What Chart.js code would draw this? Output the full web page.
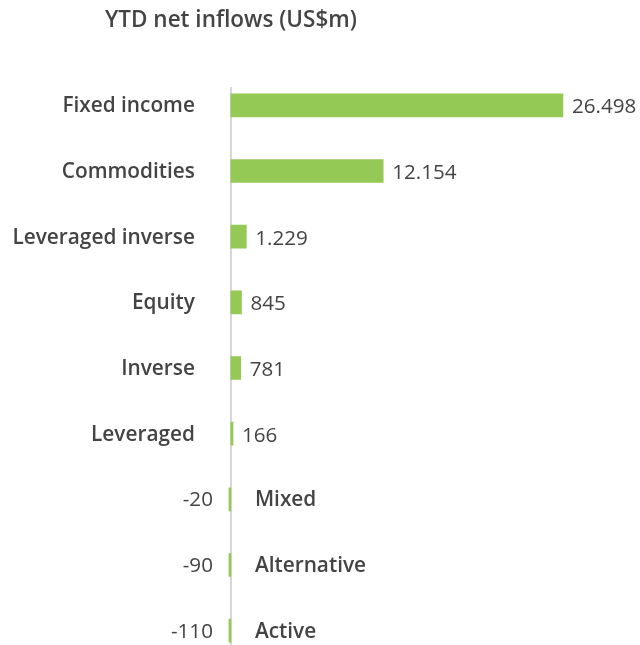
<!DOCTYPE html>
<html>
<head>
<meta charset="utf-8">
<script src="https://cdn.jsdelivr.net/npm/chart.js@4"></script>
<style>
  html, body { margin: 0; padding: 0; background: #fff; overflow: hidden; }
  #wrap { width: 640px; height: 680px; }
</style>
</head>
<body>
<div id="wrap"><canvas id="flowChart"></canvas></div>
<script>
const categories = ['Fixed income', 'Commodities', 'Leveraged inverse', 'Equity', 'Inverse', 'Leveraged', 'Mixed', 'Alternative', 'Active'];
const inflows = [26498, 12154, 1229, 845, 781, 166, -20, -90, -110];
const valueLabels = ['26.498', '12.154', '1.229', '845', '781', '166', '-20', '-90', '-110'];
const titleText = 'YTD net inflows (US$m)';

const textColor = '#444444';
const barColor = '#94c955';
const nameFont = '600 20.8px "Open Sans"';
const valueFont = '20.6px "Open Sans"';

// zero line goes under the bars
const zeroLinePlugin = {
  id: 'zeroLine',
  beforeDatasetsDraw (chart) {
    const ctx = chart.ctx;
    const zero = chart.scales.x.getPixelForValue(0);
    ctx.save();
    ctx.strokeStyle = '#c8c8c8';
    ctx.lineWidth = 1.5;
    ctx.beginPath();
    ctx.moveTo(zero, 87);
    ctx.lineTo(zero, chart.height);
    ctx.stroke();
    ctx.restore();
  }
};

// category names and values sit on either side of the zero line
const labelsPlugin = {
  id: 'sideLabels',
  afterDatasetsDraw (chart) {
    const ctx = chart.ctx;
    const zero = chart.scales.x.getPixelForValue(0);
    const meta = chart.getDatasetMeta(0);
    ctx.save();
    ctx.fillStyle = textColor;
    ctx.textBaseline = 'middle';
    ctx.font = '600 22.5px "Open Sans"';
    ctx.textAlign = 'left';
    ctx.fillText(titleText, 105, 21);

    meta.data.forEach((bar, i) => {
      const y = bar.y + 1;
      if (inflows[i] >= 0) {
        ctx.font = nameFont;
        ctx.textAlign = 'right';
        ctx.fillText(categories[i], zero - 36, y);
        ctx.font = valueFont;
        ctx.textAlign = 'left';
        ctx.fillText(valueLabels[i], bar.x + 9, y + 1);
      } else {
        ctx.font = valueFont;
        ctx.textAlign = 'right';
        ctx.fillText(valueLabels[i], zero - 18, y);
        ctx.font = nameFont;
        ctx.textAlign = 'left';
        ctx.fillText(categories[i], zero + 24, y);
      }
    });
    ctx.restore();
  }
};

new Chart(document.getElementById('flowChart'), {
  type: 'bar',
  data: {
    labels: categories,
    datasets: [{
      label: 'YTD net inflows',
      data: inflows,
      backgroundColor: barColor,
      borderWidth: 0,
      barThickness: 23,
      minBarLength: 2
    }]
  },
  options: {
    indexAxis: 'y',
    responsive: true,
    maintainAspectRatio: false,
    animation: false,
    layout: { padding: { top: 72.5, bottom: 16.5, left: 0, right: 0 } },
    plugins: {
      legend: { display: false },
      tooltip: { enabled: false }
    },
    scales: {
      x: {
        min: -18430,
        max: 32650,
        display: false
      },
      y: {
        display: false
      }
    }
  },
  plugins: [zeroLinePlugin, labelsPlugin]
});
</script>
</body>
</html>
